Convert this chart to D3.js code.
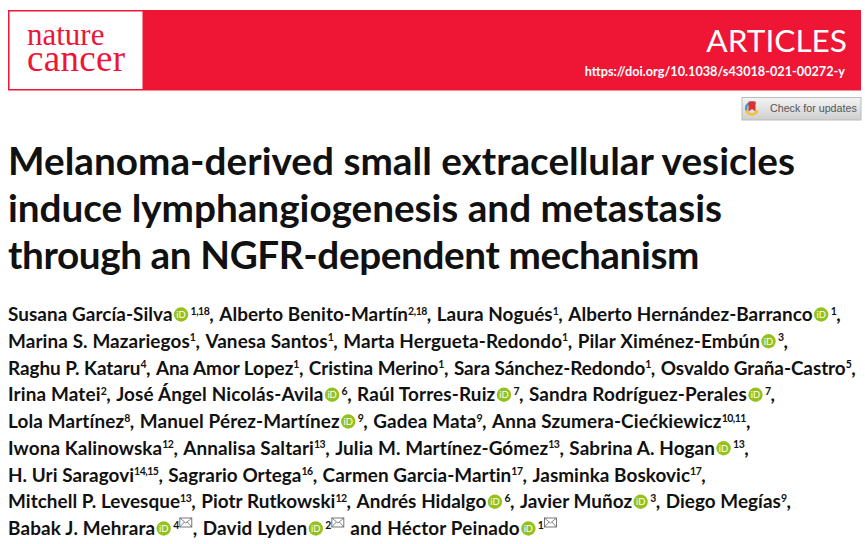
<!DOCTYPE html>
<html>
<head>
<meta charset="utf-8">
<script src="https://cdn.jsdelivr.net/npm/d3@7"></script>
<style>
html,body{margin:0;padding:0;background:#fff;}
svg{display:block;}
text{font-family:Lato,sans-serif;}
</style>
</head>
<body>
<div id="chart"></div>
<script>
var journalWords = ['nature', 'cancer'];
var sectionLabel = 'ARTICLES';
var doiLabel = 'https://doi.org/10.1038/s43018-021-00272-y';
var updatesLabel = 'Check for updates';
var titleLines = [
    'Melanoma-derived small extracellular vesicles',
    'induce lymphangiogenesis and metastasis',
    'through an NGFR-dependent mechanism'
];

// each author: name, affiliation superscript, has orcid, has mail
var authorLines = [
    [['Susana García-Silva','1,18',1,0],['Alberto Benito-Martín','2,18',0,0],['Laura Nogués','1',0,0],['Alberto Hernández-Barranco','1',1,0]],
    [['Marina S. Mazariegos','1',0,0],['Vanesa Santos','1',0,0],['Marta Hergueta-Redondo','1',0,0],['Pilar Ximénez-Embún','3',1,0]],
    [['Raghu P. Kataru','4',0,0],['Ana Amor Lopez','1',0,0],['Cristina Merino','1',0,0],['Sara Sánchez-Redondo','1',0,0],['Osvaldo Graña-Castro','5',0,0]],
    [['Irina Matei','2',0,0],['José Ángel Nicolás-Avila','6',1,0],['Raúl Torres-Ruiz','7',1,0],['Sandra Rodríguez-Perales','7',1,0]],
    [['Lola Martínez','8',0,0],['Manuel Pérez-Martínez','9',1,0],['Gadea Mata','9',0,0],['Anna Szumera-Ciećkiewicz','10,11',0,0]],
    [['Iwona Kalinowska','12',0,0],['Annalisa Saltari','13',0,0],['Julia M. Martínez-Gómez','13',0,0],['Sabrina A. Hogan','13',1,0]],
    [['H. Uri Saragovi','14,15',0,0],['Sagrario Ortega','16',0,0],['Carmen Garcia-Martin','17',0,0],['Jasminka Boskovic','17',0,0]],
    [['Mitchell P. Levesque','13',0,0],['Piotr Rutkowski','12',0,0],['Andrés Hidalgo','6',1,0],['Javier Muñoz','3',1,0],['Diego Megías','9',0,0]],
    [['Babak J. Mehrara','4',1,1],['David Lyden','2',1,1],['Héctor Peinado','1',1,1]]
];

var width = 865, height = 544;
var red = '#ee1535', ink = '#111';

// where each line has to end, read from the page
var titleEnds = [795, 722, 699];
var authorEnds = [841, 788, 856, 775, 751, 749, 706, 791, 557];

var svg = d3.select('#chart').append('svg').attr('width', width).attr('height', height);

// masthead
svg.append('rect').attr('x', 8).attr('y', 10).attr('width', 853).attr('height', 80.5).attr('fill', red);
svg.append('rect').attr('x', 9.5).attr('y', 11.5).attr('width', 133).attr('height', 77.5).attr('fill', '#fff');

svg.selectAll('.journal').data(journalWords).enter().append('text')
    .attr('class', 'journal')
    .attr('x', 27)
    .attr('y', function(d, i){ return 45 + i * 25.5; })
    .attr('fill', red)
    .style('font-family', '"Liberation Serif",serif')
    .style('font-size', function(d, i){ return i ? '37px' : '31px'; })
    .style('letter-spacing', function(d, i){ return i ? '0.3px' : '0'; })
    .text(function(d){ return d; });

svg.append('text').attr('x', 847).attr('y', 52).attr('text-anchor', 'end')
    .attr('fill', '#fff').style('font-size', '31.6px').style('font-weight', 400).text(sectionLabel);
svg.append('text').attr('x', 845).attr('y', 76).attr('text-anchor', 'end')
    .attr('fill', '#fff').style('font-size', '12.7px').style('font-weight', 700).text(doiLabel);

// check for updates button
var grad = svg.append('defs').append('linearGradient').attr('id', 'btn').attr('x2', 0).attr('y2', 1);
grad.append('stop').attr('offset', 0).attr('stop-color', '#f4f4f4');
grad.append('stop').attr('offset', 1).attr('stop-color', '#cfcfcf');
svg.append('rect').attr('x', 742).attr('y', 97.5).attr('width', 119).attr('height', 22.5)
    .attr('fill', 'url(#btn)').attr('stroke', '#bbb');
var ringArc = d3.arc().innerRadius(4.6).outerRadius(7);
[['#f2c230', 1.9, 4.4], ['#3a9ad9', 4.4, 6.9]].forEach(function(s){
    svg.append('path').attr('transform', 'translate(752,108.5)')
        .attr('d', ringArc({startAngle: s[1], endAngle: s[2]})).attr('fill', s[0]);
});
svg.append('path').attr('d', 'M748.5 101.5h7v10l-3.5-2.5-3.5 2.5z').attr('fill', '#d8342c');
svg.append('text').attr('x', 770).attr('y', 112).attr('fill', '#555')
    .style('font-family', '"Liberation Sans",sans-serif').style('font-size', '10.7px').text(updatesLabel);

// title
var titleY = d3.scaleLinear().domain([0, 2]).range([175, 268.5]);
svg.selectAll('.title').data(titleLines).enter().append('text')
    .attr('class', 'title')
    .attr('x', 8)
    .attr('y', function(d, i){ return titleY(i); })
    .attr('fill', ink)
    .style('font-size', '38.7px')
    .style('font-weight', 700)
    .text(function(d){ return d; })
    .each(function(d, i){
        var natural = this.getComputedTextLength();
        d3.select(this).style('letter-spacing', (titleEnds[i] - 8 - natural) / d.length + 'px');
    });

// authors, flowed left to right by measuring each piece
var lineY = d3.scaleLinear().domain([0, 8]).range([321, 535]);
var nameSize = 18.9, supSize = 10.5, wordGap = 5.5;

function putText(g, x, y, str, size, spacing){
    var t = g.append('text').attr('x', x).attr('y', y).attr('fill', ink)
        .style('font-size', size + 'px').style('font-weight', 700)
        .style('letter-spacing', (spacing || 0) + 'px').text(str);
    return x + t.node().getComputedTextLength();
}

function putOrcid(g, x, y){
    var cx = x + 8.5, cy = y - 6.5;
    g.append('circle').attr('cx', cx).attr('cy', cy).attr('r', 7.2).attr('fill', '#95c11f');
    g.append('text').attr('x', cx).attr('y', cy + 3.4).attr('text-anchor', 'middle').attr('fill', '#fff')
        .style('font-size', '9.5px').style('font-weight', 400).text('iD');
    return x + 18;
}

function putMail(g, x, y){
    var top = y - 17;
    g.append('rect').attr('x', x + 1).attr('y', top).attr('width', 12).attr('height', 9)
        .attr('fill', '#fff').attr('stroke', '#555').attr('stroke-width', 0.8);
    g.append('path').attr('d', 'M' + (x + 1) + ' ' + top + 'l6 5 6-5M' + (x + 1) + ' ' + (top + 9) + 'l4.5-5M' + (x + 13) + ' ' + (top + 9) + 'l-4.5-5')
        .attr('fill', 'none').attr('stroke', '#555').attr('stroke-width', 0.7);
    return x + 14;
}

function drawLine(g, line, li, spacing){
    var y = lineY(li), x = 8;
    line.forEach(function(a, i){
        var last = i == line.length - 1;
        if(li == 8 && last){
            x = putText(g, x, y, 'and', nameSize, spacing) + wordGap;
        }
        x = putText(g, x, y, a[0], nameSize, spacing);
        if(a[2]) x = putOrcid(g, x, y);
        x = putText(g, x, y - 6.5, a[1], supSize, -0.5);
        if(a[3]) x = putMail(g, x, y);
        if(li == 8 && i == 1){
            x += wordGap;
        }else if(!(li == 8 && last)){
            x = putText(g, x, y, ',', nameSize) + wordGap;
        }
    });
    return x - (li == 8 ? 0 : wordGap);
}

svg.selectAll('.authors').data(authorLines).enter().append('g')
    .attr('class', 'authors')
    .each(function(line, li){
        var g = d3.select(this);
        var end = drawLine(g, line, li, 0);
        var chars = d3.sum(line, function(a){ return a[0].length; });
        g.selectAll('*').remove();
        drawLine(g, line, li, (authorEnds[li] - end) / chars);
    });
</script>
</body>
</html>
